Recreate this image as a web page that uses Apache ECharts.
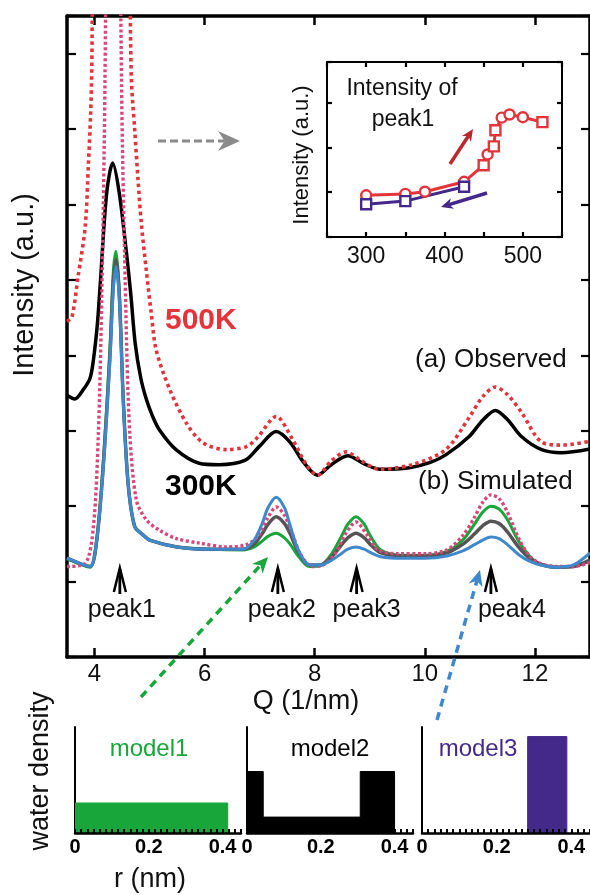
<!DOCTYPE html>
<html>
<head>
<meta charset="utf-8">
<script src="https://cdn.jsdelivr.net/npm/echarts@6/dist/echarts.min.js"></script>
<style>
html, body {margin: 0; padding: 0; background: #fff;}
#chart {width: 590px; height: 895px;}
</style>
</head>
<body>
<div id="chart"></div>
<script>
// observed spectra (a)
const obsQ300 = [3.5, 3.64, 3.8, 3.92, 3.98, 4.05, 4.1, 4.22, 4.33, 4.45, 4.58, 4.66, 4.74, 4.84, 4.94, 5.05, 5.18, 5.48, 5.9, 6.26, 6.74, 6.99, 7.3, 7.55, 7.8, 8.05, 8.3, 8.6, 8.9, 9.18, 9.72, 10.1, 10.38, 10.8, 11.05, 11.28, 11.5, 11.76, 12.12, 12.48, 13.0];
const obs300 = [3.47, 3.42, 3.55, 3.7, 3.94, 4.4, 4.9, 6.15, 6.55, 6.15, 5.36, 4.8, 4.15, 3.7, 3.42, 3.2, 3.01, 2.75, 2.57, 2.55, 2.61, 2.79, 2.99, 2.85, 2.58, 2.41, 2.55, 2.67, 2.56, 2.49, 2.51, 2.58, 2.68, 2.92, 3.14, 3.27, 3.15, 2.92, 2.75, 2.71, 2.76];
const obsQ500 = [3.5, 3.59, 3.7, 3.83, 3.89, 3.93, 3.95, 3.97, 4.3, 4.64, 4.67, 4.73, 4.79, 4.85, 4.94, 5.03, 5.12, 5.37, 5.67, 5.97, 6.39, 6.76, 6.97, 7.3, 7.6, 7.85, 8.05, 8.3, 8.57, 8.85, 9.17, 9.77, 10.38, 10.8, 11.05, 11.28, 11.5, 11.76, 12.12, 12.49, 13.0];
const obs500 = [4.45, 4.51, 5.04, 5.7, 6.55, 7.21, 7.8, 9.2, 20, 9.0, 7.65, 6.99, 6.33, 5.75, 5.13, 4.56, 4.07, 3.54, 3.1, 2.84, 2.75, 2.79, 2.92, 3.19, 2.88, 2.55, 2.41, 2.6, 2.72, 2.6, 2.49, 2.55, 2.75, 3.17, 3.45, 3.58, 3.48, 3.24, 2.85, 2.81, 2.86];

// simulated spectra (b)
const simQ = [3.5, 3.7, 3.92, 4.04, 4.16, 4.28, 4.34, 4.39, 4.45, 4.52, 4.61, 4.73, 4.88, 5.0, 5.5, 6.1, 6.7, 6.9, 7.05, 7.15, 7.3, 7.45, 7.55, 7.7, 7.9, 8.1, 8.3, 8.5, 8.6, 8.75, 8.9, 9.0, 9.2, 9.6, 10.0, 10.4, 10.7, 10.9, 11.05, 11.2, 11.35, 11.5, 11.7, 11.9, 12.1, 12.4, 12.7, 13.0];
const simModel1 = [1.30, 1.24, 1.19, 1.55, 2.6, 4.1, 5.1, 5.38, 4.85, 3.45, 2.30, 1.73, 1.62, 1.55, 1.46, 1.43, 1.42,
  1.46, 1.54, 1.60, 1.64, 1.58, 1.50, 1.34, 1.20, 1.21, 1.36, 1.62, 1.76, 1.86, 1.76, 1.62, 1.42, 1.35, 1.35, 1.40, 1.56, 1.76, 1.92, 2.00, 1.96, 1.82, 1.54, 1.34, 1.23, 1.19, 1.20, 1.27];
const simModel2 = [1.31, 1.25, 1.20, 1.55, 2.55, 4.0, 4.95, 5.27, 4.8, 3.45, 2.30, 1.73, 1.62, 1.55, 1.46, 1.43, 1.43,
  1.50, 1.64, 1.76, 1.86, 1.77, 1.64, 1.40, 1.22, 1.22, 1.32, 1.50, 1.58, 1.64, 1.58, 1.50, 1.38, 1.34, 1.34, 1.38, 1.50, 1.63, 1.74, 1.80, 1.77, 1.66, 1.46, 1.31, 1.23, 1.19, 1.20, 1.29];
const simModel3 = [1.31, 1.25, 1.20, 1.55, 2.52, 3.95, 4.85, 5.18, 4.75, 3.41, 2.30, 1.73, 1.62, 1.55, 1.46, 1.43, 1.43,
  1.55, 1.78, 1.98, 2.12, 1.98, 1.75, 1.42, 1.22, 1.22, 1.28, 1.38, 1.43, 1.46, 1.43, 1.39, 1.33, 1.31, 1.31, 1.34, 1.41, 1.49, 1.55, 1.59, 1.57, 1.49, 1.36, 1.27, 1.22, 1.19, 1.22, 1.38];
const simQ500 = [3.5, 3.83, 3.98, 4.07, 4.13, 4.19, 4.33, 4.49, 4.57, 4.64, 4.76, 4.94, 5.18, 5.49, 5.91, 6.39, 6.76, 6.99, 7.15, 7.3, 7.45, 7.6, 7.75, 7.95, 8.15, 8.35, 8.55, 8.75, 8.95, 9.15, 9.5, 10.0, 10.4, 10.7, 10.9, 11.05, 11.2, 11.35, 11.5, 11.7, 11.9, 12.1, 12.4, 12.7, 13.0];
const sim500 = [1.20, 1.24, 1.73, 2.97, 4.73, 7.65, 20, 7.65, 4.56, 2.97, 2.08, 1.82, 1.68, 1.57, 1.51, 1.46, 1.49, 1.62, 1.85, 1.99, 1.88, 1.62, 1.35, 1.20, 1.22, 1.35, 1.62, 1.79, 1.62, 1.42, 1.37, 1.37, 1.42, 1.62, 1.85, 2.05, 2.15, 2.10, 1.92, 1.58, 1.34, 1.24, 1.20, 1.20, 1.25];

const qTicks = [4, 6, 8, 10, 12];
const peakQ = [4.46, 7.33, 8.76, 11.2];
const peakNames = ['peak1', 'peak2', 'peak3', 'peak4'];

// inset: peak1 intensity vs temperature
const heatT = [300, 350, 375, 425, 450, 455, 463, 465, 473, 483, 500, 525];
const heatI = [0.93, 0.96, 1.01, 1.23, 1.6, 1.84, 2.02, 2.38, 2.66, 2.73, 2.67, 2.56];
const coolT = [300, 350, 425];
const coolI = [0.73, 0.80, 1.12];

// water density models
const model1R = [0, 0.414, 0.414];
const model1D = [0.283, 0.283, 0];
const model2R = [0, 0.044, 0.044, 0.307, 0.307, 0.40, 0.40];
const model2D = [0.58, 0.58, 0.15, 0.15, 0.58, 0.58, 0];
const model3R = [0.283, 0.283, 0.388, 0.388];
const model3D = [0, 0.91, 0.91, 0];

const FONT = '"Liberation Sans", Arial, Helvetica, sans-serif';
const RED = '#e3343b', PINK = '#d9467a', GREEN = '#18a63a', GRAY = '#555555', BLUE = '#3f88cc', PURPLE = '#44298a';

const zip = (xs, ys) => xs.map((x, i) => [x, ys[i]]);

const line = (x, y) => ({type: 'line', showSymbol: false, symbol: 'none', smooth: 0.3, xAxisIndex: x, yAxisIndex: y});

const frame = (w, tick) => ({
  axisLine: {show: true, onZero: false, lineStyle: {color: '#000', width: w}},
  axisTick: {show: true, inside: true, length: tick, lineStyle: {color: '#000', width: 2.2}},
  axisLabel: {show: false},
  splitLine: {show: false}
});

const chart = echarts.init(document.getElementById('chart'));

const panelAxisX = (g) => ({
  type: 'value', gridIndex: g, min: 0, max: 0.45, interval: 0.05, z: 5,
  axisLine: {show: true, onZero: false, lineStyle: {color: '#000', width: 2.5}},
  axisTick: {show: true, inside: true, length: 4, lineStyle: {color: '#000', width: 2}},
  minorTick: {show: true, splitNumber: 3, length: 4, lineStyle: {color: '#000', width: 2}},
  splitLine: {show: false},
  axisLabel: {
    show: true, margin: 4, color: '#000', fontFamily: FONT, fontWeight: 'bold', fontSize: 20,
    formatter: v => {
      const d = Math.round(v * 10);
      if (Math.abs(v * 10 - d) > 1e-6 || d % 2) return '';
      return d === 0 ? '0' : (d / 10).toFixed(1);
    }
  }
});
const panelAxisY = (g) => ({
  type: 'value', gridIndex: g, min: 0, max: 1,
  axisLine: {show: true, onZero: false, lineStyle: {color: '#000', width: 2}},
  axisTick: {show: false}, axisLabel: {show: false}, splitLine: {show: false}
});

chart.setOption({
  animation: false,
  backgroundColor: '#fff',
  grid: [
    {left: 67, top: 16, width: 523, height: 641, outerBoundsMode: 'none'},
    {left: 327, top: 62, width: 235, height: 175, outerBoundsMode: 'none'},
    {left: 75, top: 727, width: 166, height: 106, outerBoundsMode: 'none'},
    {left: 247, top: 727, width: 166, height: 106, outerBoundsMode: 'none'},
    {left: 422, top: 727, width: 168, height: 106, outerBoundsMode: 'none'}
  ],
  xAxis: [
    Object.assign({type: 'value', gridIndex: 0, min: 3.5, max: 13, position: 'bottom'}, frame(3.5, 9), {
      axisTick: {show: true, inside: true, length: 9, customValues: qTicks, lineStyle: {color: '#000', width: 2.5}},
      axisLabel: {show: true, customValues: qTicks, margin: 5, color: '#111', fontFamily: FONT, fontSize: 24}
    }),
    Object.assign({type: 'value', gridIndex: 0, min: 3.5, max: 13, position: 'top'}, frame(3.5, 9), {
      axisTick: {show: true, inside: true, length: 9, customValues: qTicks, lineStyle: {color: '#000', width: 2.5}}
    }),
    Object.assign({type: 'value', gridIndex: 1, min: 250, max: 550, interval: 50, position: 'bottom'}, frame(2, 5), {
      axisLabel: {show: true, margin: 8, color: '#111', fontFamily: FONT, fontSize: 23,
        formatter: v => (v % 100 === 0 ? String(v) : '')}
    }),
    Object.assign({type: 'value', gridIndex: 1, min: 250, max: 550, interval: 50, position: 'top'}, frame(2, 5)),
    panelAxisX(2), panelAxisX(3), panelAxisX(4)
  ],
  yAxis: [
    Object.assign({type: 'value', gridIndex: 0, min: 0, max: 8.5, interval: 1, position: 'left'}, frame(3.5, 9)),
    Object.assign({type: 'value', gridIndex: 0, min: 0, max: 8.5, interval: 1, position: 'right'}, frame(3.5, 9)),
    Object.assign({type: 'value', gridIndex: 1, min: 0, max: 3.9, interval: 1, position: 'left'}, frame(2, 5)),
    Object.assign({type: 'value', gridIndex: 1, min: 0, max: 3.9, interval: 1, position: 'right'}, frame(2, 5)),
    panelAxisY(2), panelAxisY(3), panelAxisY(4)
  ],
  series: [
    Object.assign(line(0, 0), {name: '300K obs', data: zip(obsQ300, obs300), z: 3,
      lineStyle: {color: '#000', width: 3.5}}),
    Object.assign(line(0, 0), {name: '500K obs', data: zip(obsQ500, obs500), z: 4,
      lineStyle: {color: RED, width: 3.6, type: [3.5, 3.5]}}),
    Object.assign(line(0, 0), {name: 'model1', data: zip(simQ, simModel1), z: 3,
      lineStyle: {color: GREEN, width: 3}}),
    Object.assign(line(0, 0), {name: 'model2', data: zip(simQ, simModel2), z: 3,
      lineStyle: {color: GRAY, width: 3.5}}),
    Object.assign(line(0, 0), {name: '500K sim', data: zip(simQ500, sim500), z: 4,
      lineStyle: {color: PINK, width: 3.4, type: [3, 2.5]}}),
    Object.assign(line(0, 0), {name: 'model3', data: zip(simQ, simModel3), z: 5,
      lineStyle: {color: BLUE, width: 3}}),

    {type: 'line', name: 'heating', xAxisIndex: 2, yAxisIndex: 2, z: 6, data: zip(heatT, heatI),
      symbol: (v, p) => ['circle', 'circle', 'circle', 'circle', 'rect', 'circle', 'rect', 'rect', 'circle', 'circle', 'circle', 'rect'][p.dataIndex],
      symbolSize: 10,
      lineStyle: {color: RED, width: 3},
      itemStyle: {color: '#fff', borderColor: RED, borderWidth: 2.4}},
    {type: 'line', name: 'cooling', xAxisIndex: 2, yAxisIndex: 2, z: 6, data: zip(coolT, coolI),
      symbol: 'rect', symbolSize: 10,
      lineStyle: {color: PURPLE, width: 3},
      itemStyle: {color: '#fff', borderColor: PURPLE, borderWidth: 2.4}},

    {type: 'line', name: 'model1 density', xAxisIndex: 4, yAxisIndex: 4, symbol: 'none', data: zip(model1R, model1D),
      lineStyle: {color: GREEN, width: 1}, areaStyle: {color: GREEN, opacity: 1}},
    {type: 'line', name: 'model2 density', xAxisIndex: 5, yAxisIndex: 5, symbol: 'none', data: zip(model2R, model2D),
      lineStyle: {color: '#000', width: 1}, areaStyle: {color: '#000', opacity: 1}},
    {type: 'line', name: 'model3 density', xAxisIndex: 6, yAxisIndex: 6, symbol: 'none', data: zip(model3R, model3D),
      lineStyle: {color: PURPLE, width: 1}, areaStyle: {color: PURPLE, opacity: 1}}
  ]
});

// annotations
function arrow(x1, y1, x2, y2, color, width, head, dash) {
  const len = Math.hypot(x2 - x1, y2 - y1);
  const ux = (x2 - x1) / len, uy = (y2 - y1) / len;
  const bx = x2 - ux * head, by = y2 - uy * head;
  const nx = x2 - ux * head * 0.7, ny = y2 - uy * head * 0.7;
  const w = head * 0.45;
  return [
    {type: 'line', z: 100, shape: {x1: x1, y1: y1, x2: nx, y2: ny},
      style: {stroke: color, lineWidth: width, lineDash: dash || null}},
    {type: 'polygon', z: 100,
      shape: {points: [[x2, y2], [bx - uy * w, by + ux * w], [nx, ny], [bx + uy * w, by - ux * w]]},
      style: {fill: color}}
  ];
}

function text(str, x, y, size, opts) {
  opts = opts || {};
  return {type: 'text', z: 100, x: x, y: y, rotation: opts.rotation || 0,
    style: {text: str, fill: opts.color || '#111', font: (opts.weight || 'normal') + ' ' + size + 'px ' + FONT,
      align: opts.align || 'center', verticalAlign: 'middle'}};
}

const g = [];
g.push(text('Intensity (a.u.)', 25, 285, 29, {rotation: Math.PI / 2}));
g.push(text('500K', 165, 321, 30, {weight: 'bold', color: RED, align: 'left'}));
g.push(text('300K', 165, 487, 30, {weight: 'bold', color: '#000', align: 'left'}));
g.push(text('(a) Observed', 415, 360, 26, {align: 'left'}));
g.push(text('(b) Simulated', 418, 482, 26, {align: 'left'}));
g.push(text('Q (1/nm)', 306, 702, 27));
g.push(text('Intensity of', 402, 89, 23));
g.push(text('peak1', 403, 120, 23));
g.push(text('Intensity (a.u.)', 302, 155, 22, {rotation: Math.PI / 2}));
g.push(text('model1', 149, 749, 24, {color: GREEN}));
g.push(text('model2', 330, 749, 24, {color: '#000'}));
g.push(text('model3', 478, 749, 24, {color: PURPLE}));
g.push(text('water density', 41, 771, 27, {rotation: Math.PI / 2}));
g.push(text('r (nm)', 150, 880, 27));

const labelShift = [-32, -30, -24, -13];
peakQ.forEach((q, i) => {
  const x = chart.convertToPixel({xAxisIndex: 0}, q);
  g.push({type: 'polyline', z: 100, shape: {points: [[x - 6, 592], [x, 568], [x + 6, 592]]},
    style: {stroke: '#000', lineWidth: 2.5, fill: null}});
  g.push({type: 'line', z: 100, shape: {x1: x, y1: 569, x2: x, y2: 594}, style: {stroke: '#000', lineWidth: 2.8}});
  g.push(text(peakNames[i], x + labelShift[i], 610, 25, {align: 'left'}));
});

g.push(...arrow(158, 141, 240, 141, '#8a8a8a', 3, 22, [8, 4]));
g.push(...arrow(141, 697, 268, 557, GREEN, 3.5, 16, [8, 6]));
g.push(...arrow(437, 720, 480, 570, BLUE, 3.5, 16, [8, 6]));
g.push(...arrow(450, 164, 473, 129, '#b8282d', 3.5, 12));
g.push(...arrow(487, 193, 441, 207, PURPLE, 3.5, 12));

chart.setOption({graphic: {elements: g}});
</script>
</body>
</html>
